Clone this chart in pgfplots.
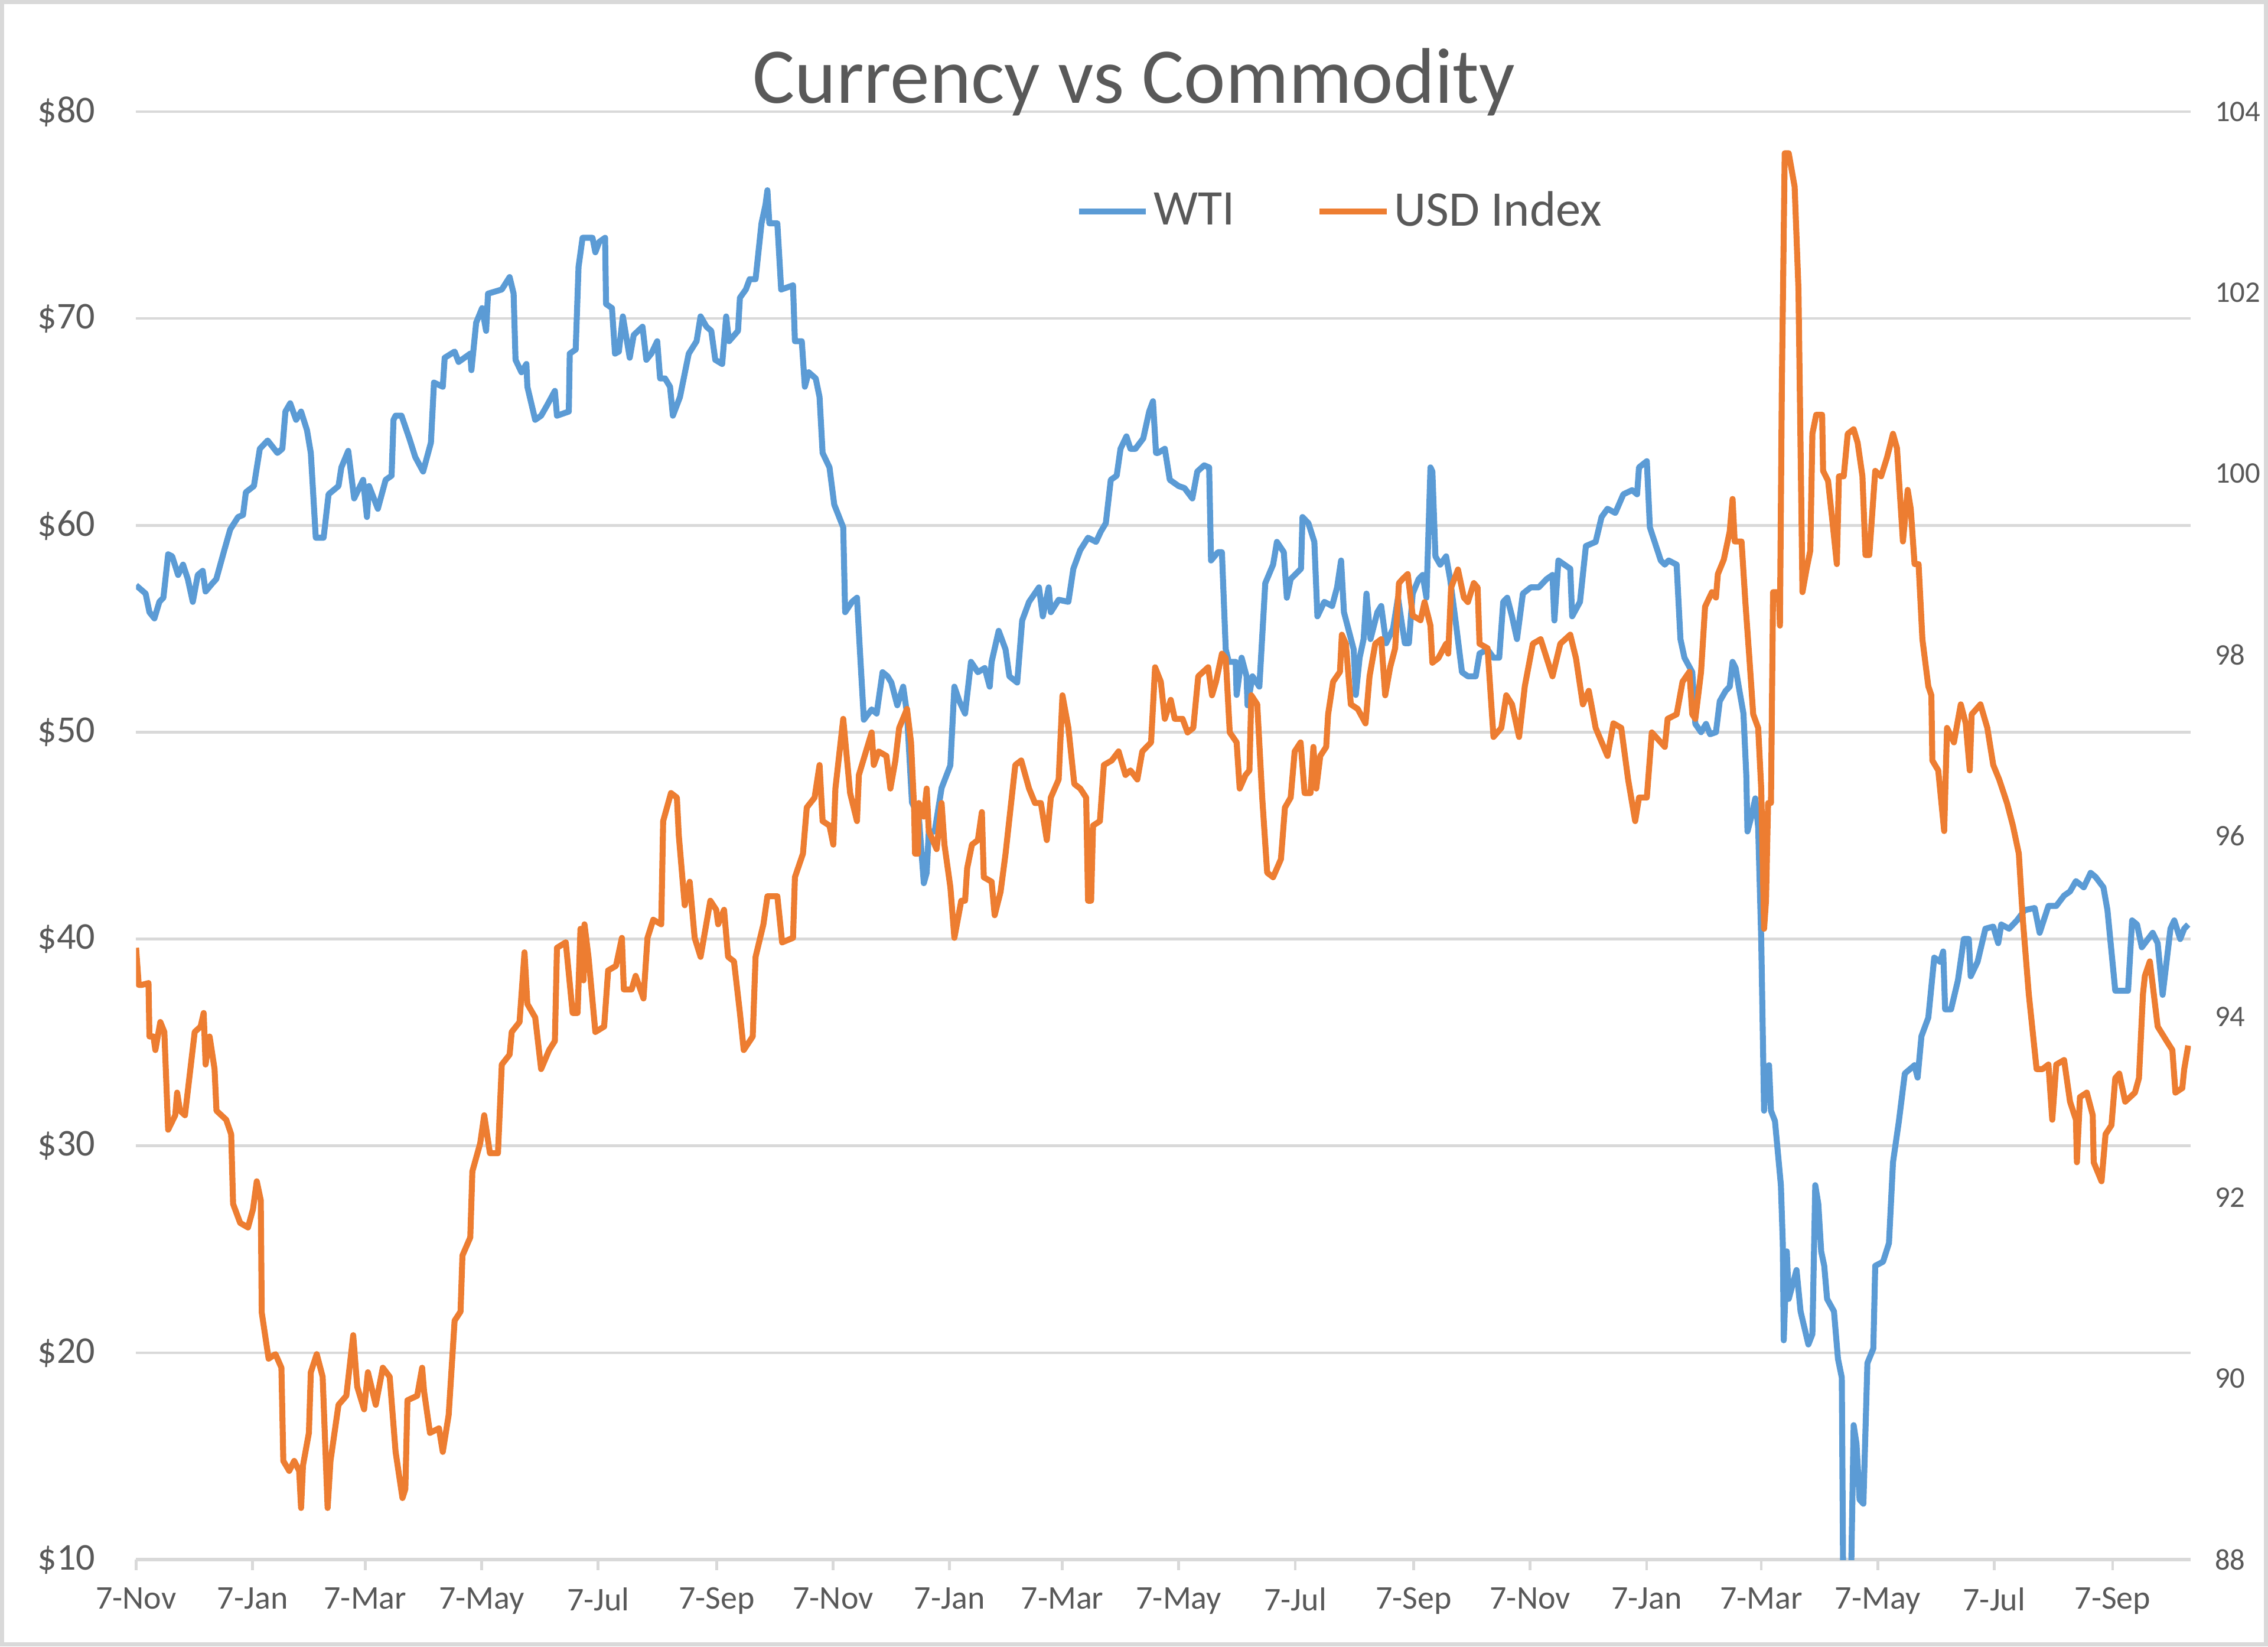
\documentclass[border=0pt]{standalone}
\usepackage{fontspec}
\setmainfont{Carlito}
\usepackage{pgfplots}
\pgfplotsset{compat=1.18}
\definecolor{textgray}{HTML}{595959}
\definecolor{gridgray}{HTML}{D9D9D9}
\definecolor{wtiblue}{HTML}{5B9BD5}
\definecolor{usdorange}{HTML}{ED7D31}
\begin{document}
\begin{tikzpicture}
\path[use as bounding box] (-1.2cm,-0.766cm) rectangle (18.8cm,13.75cm);
\draw[gridgray, line width=1pt] (-1.2cm+0.5pt,-0.766cm+0.5pt) rectangle (18.8cm-0.5pt,13.75cm-0.5pt);
\begin{axis}[
  at={(0,0)}, anchor=south west,
  width=18.12cm, height=12.766cm, scale only axis,
  xmin=0, xmax=1076, ymin=10, ymax=80,
  axis x line*=bottom, axis y line*=left,
  x axis line style={gridgray, line width=0.8pt},
  y axis line style={draw=none},
  ytick={10,20,30,40,50,60,70,80},
  yticklabels={\$10,\$20,\$30,\$40,\$50,\$60,\$70,\$80},
  ymajorgrids, grid style={gridgray, line width=0.7pt},
  ytick style={draw=none},
  xtick={0,61,120,181,242,304,365,426,485,546,607,669,730,791,851,912,973,1035},
  xticklabels={7-Nov,7-Jan,7-Mar,7-May,7-Jul,7-Sep,7-Nov,7-Jan,7-Mar,7-May,7-Jul,7-Sep,7-Nov,7-Jan,7-Mar,7-May,7-Jul,7-Sep},
  xtick style={gridgray, line width=0.7pt},
  tick align=outside, major tick length=2.7pt,
  x tick label style={font=\fontsize{8.3}{10}\selectfont, text=textgray, yshift=-0.8pt},
  y tick label style={font=\fontsize{9.5}{11}\selectfont, text=textgray, xshift=-4pt},
  legend style={at={(0.457,0.931)}, anchor=west, draw=none, fill=none,
    font=\fontsize{12.5}{15}\selectfont, text=textgray, inner sep=0pt,
    nodes={inner sep=1.2pt},
    /tikz/every even column/.append style={column sep=0.68cm}},
  legend columns=2,
  legend image code/.code={\draw[#1] (0cm,0cm) -- (0.59cm,0cm);},
]
\addplot[wtiblue, line width=1.5pt, line join=round] coordinates {
(0,57.1) (5,56.7) (7,55.8) (9.6,55.5) (12.2,56.3) (14.3,56.5) (16.8,58.6) (18.9,58.5) (22,57.6) (24.6,58.1) (27.1,57.4) (29.7,56.3) (32.3,57.6) (34.9,57.8) (36.4,56.8) (40,57.2) (42,57.4) (46.2,58.8) (49.3,59.8) (53.4,60.4) (56,60.5) (57.5,61.6) (61.7,61.9) (64.8,63.7) (68.9,64.1) (74,63.5) (76.6,63.7) (78.2,65.5) (80.7,65.9) (83.8,65.1) (86.4,65.5) (89.5,64.6) (91.5,63.5) (94.1,59.4) (98.2,59.4) (100.8,61.5) (106,61.9) (107.5,62.8) (111.1,63.6) (114.2,61.3) (118.9,62.2) (120.9,60.4) (122,61.9) (126.6,60.8) (130.7,62.2) (133.8,62.4) (134.8,65.1)
(135.9,65.3) (139,65.3) (143.1,64.2) (146.2,63.3) (150.3,62.6) (154.4,64.0) (156,66.9) (160.6,66.7) (161.6,68.1) (166.8,68.4) (168.9,67.9) (175,68.3) (175.6,67.5) (178.1,69.8) (181.2,70.5) (183.3,69.4) (184.3,71.2) (191.5,71.4) (195.6,72.0) (197.7,71.2) (198.7,68.0) (201.8,67.4) (204.4,67.8) (204.9,66.7) (209,65.1) (212.1,65.3) (215.2,65.8) (219.3,66.5) (220.4,65.3) (226.6,65.5) (227.1,68.3) (230.2,68.5) (231.7,72.5) (233.8,73.9) (239,73.9) (240.5,73.2) (242.5,73.7) (245.6,73.9) (246.1,70.7) (249.2,70.5) (250.8,68.3) (252.8,68.4) (254.9,70.1) (258.5,68.1) (260.6,69.2)
(265.2,69.6) (267.2,68.0) (269.8,68.3) (272.9,68.9) (274.4,67.1) (277,67.1) (279.6,66.7) (281.1,65.3) (284.8,66.2) (289.4,68.3) (293.5,68.9) (295.6,70.1) (298.7,69.6) (301.2,69.4) (303.3,68.0) (306.9,67.8) (309,70.1) (310.5,68.9) (315.2,69.4) (316.2,71.0) (319.3,71.4) (321.3,71.9) (324.4,71.9) (327.5,74.6) (329.6,75.5) (330.6,76.2) (331.6,74.6) (335.8,74.6) (337.8,71.4) (344,71.6) (345,68.9) (348.6,68.9) (350.2,66.7) (352.2,67.4) (355.9,67.1) (357.9,66.2) (359.5,63.5) (363.1,62.8) (365.6,61.0) (370.3,59.9) (371.3,55.8) (374.9,56.3) (377.5,56.5) (379,54.0) (381.1,50.6) (385.2,51.1) (387.8,50.9) (390.9,52.9) (393.5,52.7)
(395.5,52.4) (398.6,51.3) (401.7,52.2) (403.7,50.9) (406.3,46.6) (409.9,45.9) (412.5,42.7) (414,43.2) (415.1,45.2) (418.2,45.2) (421.8,47.3) (426.4,48.4) (428.5,52.2) (431.1,51.5) (434.1,50.9) (437.2,53.4) (440.8,52.9) (444.4,53.1) (447,52.2) (448,53.4) (451.7,54.9) (455.3,54.0) (457.3,52.7) (461.4,52.4) (464,55.4) (467.6,56.3) (472.8,57.0) (474.8,55.6) (477.9,57.0) (479,55.8) (483.1,56.4) (488.2,56.3) (490.8,57.9) (494.4,58.8) (498.5,59.4) (502.7,59.2) (505.2,59.7) (507.8,60.1) (510.4,62.2) (513.5,62.4) (515.5,63.7) (518.6,64.3) (520.7,63.7) (523.3,63.7) (527.4,64.2) (530.5,65.5) (532.5,66.0) (534.1,63.5)
(535.1,63.5) (538.7,63.7) (541.3,62.2) (545.9,61.9) (549,61.8) (553.1,61.3) (555.7,62.6) (559.3,62.9) (561.9,62.8) (562.9,58.3) (566.5,58.7) (568.6,58.7) (570.6,54.0) (572.2,53.4) (575.8,53.4) (576.3,51.8) (578.9,53.6) (581.5,52.7) (582,51.3) (584.6,52.7) (588.2,52.2) (591.3,57.2) (595.4,58.1) (597.4,59.2) (601,58.7) (602.6,56.5) (604.6,57.4) (610,57.9) (610.8,60.4) (613.9,60.1) (617,59.2) (618.6,55.6) (622.2,56.3) (626.3,56.1) (628.9,57.0) (631,58.3) (632.5,55.8) (637.6,54.0) (638.7,51.8) (640.7,53.6) (642.8,54.5) (644.3,56.7) (646.4,54.5) (650,55.8) (652,56.1) (654.6,54.3) (658.2,55.0) (660.8,56.5)
(662.9,55.2) (664.4,54.3) (666.5,54.3) (668.5,56.7) (671.6,57.4) (673.7,57.6) (675.7,56.5) (677.8,62.8) (678.8,62.6) (680.4,58.5) (682.9,58.1) (686,58.5) (688.1,57.4) (691.2,55.2) (694.3,52.9) (697.4,52.7) (701.5,52.7) (703.5,53.8) (707.7,54.0) (710.8,53.6) (713.8,53.6) (715.9,56.3) (718,56.5) (720.5,55.6) (723.1,54.5) (726.2,56.7) (730.3,57.0) (734.5,57.0) (738.6,57.4) (741.7,57.6) (742.7,55.4) (744.8,58.3) (747.9,58.1) (751,57.9) (752,55.6) (756.1,56.3) (759.2,59.0) (764.3,59.2) (767.4,60.4) (770.5,60.8) (774.6,60.6) (778.8,61.5) (783.4,61.7) (786,61.5) (787,62.8) (791.1,63.1) (792.7,59.9)
(798.4,58.3) (800.5,58.1) (802.5,58.3) (806.7,58.1) (808.7,54.5) (810.8,53.6) (814.9,52.9) (816.5,50.4) (819.5,50.0) (822.1,50.4) (824.2,49.9) (827.3,50.0) (829.3,51.5) (832.4,52.0) (834.5,52.2) (836,53.4) (837.6,53.1) (839.6,52.0) (841.7,50.9) (843.2,47.9) (843.8,45.2) (845.8,45.9) (847.9,46.8) (849.4,45.4) (851,40.0) (852.5,31.7) (853.5,33.7) (855.1,33.9) (856.1,31.7) (858.2,31.2) (861.3,28.1) (862.3,25.3) (862.8,20.6) (864.4,24.9) (865.4,22.6) (869.5,24.0) (871.6,22.0) (875.7,20.4) (877.8,20.9) (879.3,28.1) (880.9,27.2) (882.4,24.9) (884,24.2) (885.5,22.6) (889.1,22.0) (891.2,19.7) (893.2,18.8) (894.2,5) (897.3,5) (899.4,16.5) (900.9,15.6) (902.5,12.9) (904.5,12.7) (906.6,19.5) (909.7,20.2) (910.7,24.2) (914.8,24.4) (917.9,25.3) (920,29.2) (923.1,31.2) (926.2,33.5)
(931.3,33.9) (932.9,33.3) (934.9,35.3) (938.5,36.2) (941.6,39.1) (944.7,38.9) (946.3,39.4) (947.3,36.6) (950.4,36.6) (954,38.0) (957.1,40.0) (959.7,40.0) (960.7,38.2) (964.3,38.9) (968.4,40.5) (972.5,40.6) (975.1,39.8) (976.7,40.7) (980.8,40.5) (984.9,40.9) (989,41.4) (994.2,41.5) (996.8,40.3) (1001.4,41.6) (1005.5,41.6) (1009.6,42.1) (1012.7,42.3) (1015.8,42.8) (1019.9,42.5) (1023.5,43.2) (1026.1,43.0) (1030.2,42.5) (1032.3,41.4) (1036.4,37.5) (1039,37.5) (1043.1,37.5) (1045.2,40.9) (1047.8,40.7) (1050.3,39.6) (1056,40.3) (1058.6,39.8) (1061.2,37.3) (1065.3,40.5) (1067.3,40.9) (1070.4,40.0) (1072.5,40.5) (1074.6,40.7)
};
\addlegendentry{WTI}
\addlegendimage{usdorange, line width=1.5pt}
\addlegendentry{USD Index}
\end{axis}
\begin{axis}[
  at={(0,0)}, anchor=south west,
  width=18.12cm, height=12.766cm, scale only axis,
  xmin=0, xmax=1076, ymin=88, ymax=104,
  hide x axis,
  axis y line*=right,
  y axis line style={draw=none},
  ytick={88,90,92,94,96,98,100,102,104},
  yticklabels={88,90,92,94,96,98,100,102,104},
  ytick style={draw=none},
  y tick label style={font=\fontsize{7.5}{9}\selectfont, text=textgray, xshift=2.5pt},
]
\addplot[usdorange, line width=1.5pt, line join=round] coordinates {
(0,94.76) (1.4,94.35) (3,94.35) (6.5,94.37) (7,93.78) (9.1,93.78) (10.1,93.63) (12.7,93.94) (14.8,93.83) (16.8,92.75) (20.5,92.91) (21.5,93.16) (23,92.96) (25.6,92.91) (30.7,93.83) (33.8,93.89) (35.4,94.04) (36.4,93.47) (38.5,93.78) (41.1,93.42) (42.1,92.96) (47.2,92.86) (49.8,92.70) (50.8,91.93) (54.5,91.72) (58.6,91.67) (61.2,91.87) (63.2,92.18) (65.3,91.97) (65.8,90.73) (69.4,90.22) (73,90.27) (76.1,90.12) (77.1,89.09) (80.2,88.98) (82.8,89.09) (85.4,88.98) (86.4,88.57) (87.4,89.04) (90.5,89.40) (91.5,90.07) (94.6,90.27) (97.7,90.02) (100.3,88.57) (101.8,89.09) (106,89.71) (110.1,89.81) (113.7,90.48) (115.8,89.91) (119.4,89.66) (121.4,90.07) (125.5,89.71) (129.2,90.12) (132.8,90.02) (135.9,89.19) (139.5,88.68) (141,88.78) (142.1,89.76) (147.2,89.81) (149.8,90.12) (150.8,89.86) (153.9,89.40) (158.6,89.45) (160.6,89.19) (163.7,89.60) (166.8,90.64) (169.9,90.74) (170.9,91.36) (175,91.56) (176.1,92.29) (180.2,92.60) (182.3,92.91) (185.3,92.49) (189.5,92.49) (191.5,93.47) (195.6,93.58) (196.7,93.83) (200.8,93.94) (203.4,94.71) (204.9,94.14) (209,93.99) (212.1,93.42) (216.3,93.63) (219.3,93.73) (220.4,94.76) (225,94.82) (228.6,94.04) (231.2,94.04) (232.7,94.97) (234.3,94.40) (234.8,95.02) (236.9,94.66) (240.5,93.83) (245.1,93.89) (247.2,94.51) (251.3,94.56) (254.4,94.87) (255.4,94.30) (259.5,94.30) (261.6,94.45)
(265.7,94.20) (267.8,94.87) (270.8,95.07) (275,95.02) (276,96.16) (280.1,96.47) (283.2,96.42) (284.2,96.0) (287.3,95.23) (289.9,95.49) (292.5,94.87) (295.6,94.66) (300.7,95.28) (303.8,95.18) (304.8,95.02) (307.9,95.18) (310,94.66) (313.1,94.61) (316.2,94.04) (318.2,93.63) (322.9,93.78) (324.4,94.66) (328.5,95.02) (330.6,95.33) (335.8,95.33) (338.3,94.82) (344,94.87) (345,95.54) (349.2,95.80) (351.2,96.31) (355.3,96.42) (357.9,96.78) (359.5,96.16) (363.1,96.11) (365.1,95.90) (366.2,96.52) (370.3,97.29) (373.9,96.47) (377.5,96.16) (378.5,96.67) (385.2,97.14) (386.3,96.78) (388.8,96.93) (392.9,96.88) (395,96.52)
(397.6,96.83) (399.6,97.19) (403.7,97.40) (405.8,97.03) (407.4,96.31) (407.9,95.80) (409.4,95.80) (409.9,96.36) (412.5,96.21) (414,96.52) (415.1,96.05) (419.2,95.85) (421.8,96.36) (423.3,95.90) (426.4,95.43) (428.5,94.87) (432.1,95.28) (434.1,95.28) (435.2,95.64) (437.7,95.90) (440.8,95.95) (442.9,96.26) (443.9,95.54) (448,95.49) (449.6,95.12) (452.7,95.38) (455.3,95.80) (460.4,96.78) (463.5,96.83) (467.6,96.52) (470.7,96.36) (473.8,96.36) (476.9,95.95) (479,96.42) (483.1,96.62) (485.1,97.55) (488.2,97.19) (491.3,96.57) (494.4,96.52) (497.5,96.42) (498.5,95.28) (500.1,95.28) (501.1,96.11) (504.7,96.16) (506.8,96.78) (510.9,96.83) (514.5,96.93) (518.1,96.67) (520.7,96.72) (524.3,96.62) (526.9,96.93) (531.5,97.03) (533.6,97.86)
(536.6,97.70) (538.7,97.29) (541.8,97.50) (543.9,97.29) (548,97.29) (550.6,97.14) (553.6,97.19) (556.2,97.76) (561.4,97.86) (563.4,97.55) (565.5,97.70) (568.6,98.01) (570.6,97.96) (572.7,97.14) (576.3,97.03) (577.9,96.52) (581,96.67) (583,96.72) (584,97.55) (587.1,97.45) (589.7,96.42) (592.3,95.59) (595.4,95.54) (599.5,95.74) (601.6,96.31) (604.6,96.42) (606.7,96.93) (609.8,97.03) (611.9,96.47) (615,96.47) (616.5,96.98) (618,96.52) (620.1,96.88) (623.2,96.98) (624.2,97.34) (626.8,97.70) (630.4,97.81) (631.4,98.22) (633.5,98.12) (636.1,97.45) (639.7,97.40) (643.8,97.24) (645.9,97.76) (648.9,98.12) (652,98.17) (654.1,97.55) (656.7,97.86) (659.3,98.07) (661.3,98.79)
(663.4,98.84) (665.9,98.89) (668.5,98.43) (672.6,98.38) (674.7,98.58) (677.8,98.32) (678.8,97.91) (681.9,97.96) (686,98.12) (687.1,98.01) (688.6,98.74) (692.2,98.94) (695.3,98.63) (697.4,98.58) (700.5,98.79) (702.5,98.74) (703.5,98.12) (707.7,98.07) (710.8,97.09) (714.9,97.19) (717.5,97.55) (720.5,97.45) (724.2,97.09) (727.2,97.65) (731.4,98.12) (735.5,98.17) (741.7,97.76) (745.8,98.12) (751,98.22) (754,97.96) (757.6,97.45) (760.7,97.60) (764.3,97.19) (770.5,96.88) (773.6,97.24) (777.7,97.19) (781.3,96.62) (785,96.16) (787,96.42) (791.1,96.42) (793.7,97.14)
(798.4,97.03) (800.5,96.98) (802,97.29) (806.7,97.34) (809.8,97.70) (813.4,97.81) (814.9,97.34) (816.5,97.29) (819.5,97.81) (821.6,98.53) (825.2,98.69) (827.3,98.63) (828.3,98.89) (831.4,99.05) (834.5,99.36) (836,99.72) (837.1,99.25) (840.7,99.25) (842.7,98.58) (844.8,97.96) (846.8,97.34) (849.4,97.19) (851,96.52) (852.5,94.97) (853.5,95.28) (854.6,96.36) (856.1,96.36) (857.2,98.69) (860.2,98.69) (860.8,98.32) (861.8,100.96) (863.3,103.54) (865.4,103.54) (868.5,103.17) (870.5,102.04) (872.6,98.69) (874.7,98.94) (876.7,99.15) (877.8,100.44) (879.8,100.65) (882.9,100.65) (883.4,100.03) (886,99.92) (888.1,99.51) (890.6,99.0) (891.7,99.97) (894.2,99.97) (896.3,100.44) (899.4,100.49) (901.5,100.34) (904,99.97) (905.6,99.10) (907.6,99.10) (910.7,100.03) (913.8,99.97) (916.9,100.18) (920,100.44) (922.1,100.28) (925.2,99.25) (927.7,99.82)
(929.3,99.61) (931.3,99.0) (933.4,99.0) (935.4,98.17) (938.5,97.65) (940.1,97.55) (940.6,96.83) (943.7,96.72) (946.8,96.05) (948.3,97.19) (951.9,97.03) (955.5,97.45) (958.1,97.24) (960.2,96.72) (961.2,97.34) (965.8,97.45) (969.4,97.19) (972.5,96.78) (975.6,96.62) (979.7,96.36) (982.8,96.11) (985.9,95.80) (988,95.07) (991.1,94.25) (995.2,93.42) (998.3,93.42) (1001.4,93.47) (1003.4,92.86) (1005.5,93.47) (1009.6,93.52) (1012.7,93.06) (1015.8,92.86) (1016.3,92.39) (1017.9,93.11) (1021.5,93.16) (1024.6,92.91) (1025.1,92.39) (1029.2,92.18) (1031.3,92.70) (1034.4,92.80) (1036.4,93.32) (1038.5,93.37) (1041.6,93.06) (1046.7,93.16) (1048.8,93.32) (1050.9,94.25) (1051.9,94.45) (1054.5,94.61) (1056,94.35) (1058.6,93.89) (1063.3,93.73) (1066.3,93.63) (1067.9,93.16) (1071.5,93.21) (1072.5,93.42) (1074.6,93.68)
};
\end{axis}
\node[anchor=base, font=\fontsize{19.8}{24}\selectfont, text=textgray] at (8.8cm,12.839cm) {Currency vs Commodity};
\end{tikzpicture}
\end{document}
